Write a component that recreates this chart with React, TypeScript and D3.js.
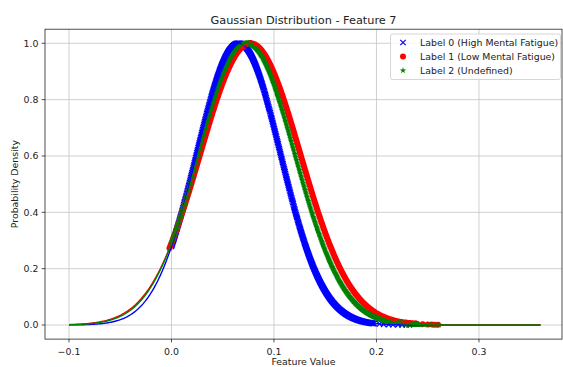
import React from "react";
import * as d3 from "d3";

const labels = ["Label 0 (High Mental Fatigue)", "Label 1 (Low Mental Fatigue)", "Label 2 (Undefined)"];
const means = [0.0655, 0.0769, 0.0736];
const stds = [0.041, 0.0489, 0.0468];
const colors = ["blue", "red", "green"];
const markerTypes = ["x", "o", "*"];
const sampleStart = [0.0, -0.002, 0.0];
const sampleEnd = [0.198, 0.24, 0.242];
const tailSamples = [
  [0.203, 0.207, 0.212, 0.216, 0.221, 0.225, 0.229, 0.232],
  [0.245, 0.25, 0.254, 0.257, 0.26],
  [0.246, 0.25, 0.253, 0.257, 0.261],
];
const lineRange = [-0.1, 0.36];
const xTicks = [-0.1, 0, 0.1, 0.2, 0.3];
const yTicks = [0, 0.2, 0.4, 0.6, 0.8, 1.0];
const title = "Gaussian Distribution - Feature 7";
const xLabel = "Feature Value";
const yLabel = "Probability Density";

const W = 563;
const H = 367;
const FONT = "DejaVu Sans, sans-serif";
const FS = 9.4;
const INK = "#222";

const gauss = (x: number, m: number, s: number) => Math.exp(-((x - m) ** 2) / (2 * s * s));

function markerPath(type: string, cx: number, cy: number): string {
  if (type === "x") {
    const h = 2.7;
    return `M${cx - h},${cy - h}L${cx + h},${cy + h}M${cx - h},${cy + h}L${cx + h},${cy - h}`;
  }
  if (type === "o") {
    const r = 3;
    return `M${cx + r},${cy}A${r},${r} 0 1,1 ${cx - r},${cy}A${r},${r} 0 1,1 ${cx + r},${cy}Z`;
  }
  const ro = 3.4;
  const ri = ro * 0.382;
  let p = "";
  for (let i = 0; i < 10; i++) {
    const r = i % 2 === 0 ? ro : ri;
    const a = -Math.PI / 2 + (i * Math.PI) / 5;
    p += `${i === 0 ? "M" : "L"}${(cx + r * Math.cos(a)).toFixed(2)},${(cy + r * Math.sin(a)).toFixed(2)}`;
  }
  return p + "Z";
}

export default function App() {
  const left = 45, right = 562, top = 29.2, bottom = 339.1;
  const x = d3.scaleLinear().domain([-0.1234, 0.381]).range([left, right]);
  const y = d3.scaleLinear().domain([-0.05, 1.05]).range([bottom, top]);
  const fmt = (v: number) => d3.format(".1f")(v).replace("-", "\u2212");

  const line = d3.line<number[]>().x((d) => x(d[0])).y((d) => y(d[1]));

  const series = means.map((m, i) => {
    const lineX = d3.range(lineRange[0], lineRange[1] + 1e-9, 0.001);
    const lineData = lineX.map((v) => [v, gauss(v, m, stds[i])]);
    const sx = d3.range(sampleStart[i], sampleEnd[i], 0.0004).concat(tailSamples[i]);
    const mp = sx.map((v) => markerPath(markerTypes[i], x(v), y(gauss(v, m, stds[i])))).join("");
    return { lineData, mp };
  });

  return (
    <svg width={W} height={H} style={{ position: "absolute", left: 0, top: 0, background: "white" }}>
      <rect width={W} height={H} fill="white" />
      {/* grid */}
      <g stroke="#c4c4c4" strokeWidth={0.8}>
        {xTicks.map((t) => (
          <line key={"gx" + t} x1={x(t)} x2={x(t)} y1={top} y2={bottom} />
        ))}
        {yTicks.map((t) => (
          <line key={"gy" + t} y1={y(t)} y2={y(t)} x1={left} x2={right} />
        ))}
      </g>
      {/* scatter */}
      {series.map((s, i) =>
        markerTypes[i] === "x" ? (
          <path key={"m" + i} d={s.mp} stroke={colors[i]} strokeWidth={1.2} fill="none" />
        ) : (
          <path key={"m" + i} d={s.mp} fill={colors[i]} stroke="none" />
        )
      )}
      {/* lines */}
      {series.map((s, i) => (
        <path key={"l" + i} d={line(s.lineData) || ""} stroke={colors[i]} strokeWidth={1.4} fill="none" />
      ))}
      {/* spines */}
      <rect x={left} y={top} width={right - left} height={bottom - top} fill="none" stroke={INK} strokeWidth={0.8} />
      {/* ticks */}
      <g fontFamily={FONT} fontSize={FS} fill={INK}>
        {xTicks.map((t) => (
          <g key={"xt" + t}>
            <line x1={x(t)} x2={x(t)} y1={bottom} y2={bottom + 3.3} stroke={INK} strokeWidth={0.8} />
            <text x={x(t)} y={354.5} textAnchor="middle">{fmt(t)}</text>
          </g>
        ))}
        {yTicks.map((t) => (
          <g key={"yt" + t}>
            <line x1={left - 3.3} x2={left} y1={y(t)} y2={y(t)} stroke={INK} strokeWidth={0.8} />
            <text x={38.5} y={y(t) + 3.4} textAnchor="end">{fmt(t)}</text>
          </g>
        ))}
      </g>
      <text x={(left + right) / 2} y={365} textAnchor="middle" fontFamily={FONT} fontSize={FS} fill={INK}>{xLabel}</text>
      <text transform={`translate(17.5,${(top + bottom) / 2}) rotate(-90)`} textAnchor="middle" fontFamily={FONT} fontSize={FS} fill={INK}>{yLabel}</text>
      <text x={(left + right) / 2} y={23.5} textAnchor="middle" fontFamily={FONT} fontSize={11.3} fill={INK}>{title}</text>
      {/* legend */}
      <rect x={390.5} y={34} width={170} height={45.5} rx={2} fill="white" fillOpacity={0.8} stroke="#cccccc" strokeWidth={0.8} />
      {labels.map((lab, i) => {
        const ly = 42.5 + i * 14;
        return (
          <g key={"lg" + i}>
            {markerTypes[i] === "x" ? (
              <path d={markerPath("x", 403, ly)} stroke={colors[i]} strokeWidth={1.2} fill="none" />
            ) : (
              <path d={markerPath(markerTypes[i], 403, ly)} fill={colors[i]} />
            )}
            <text x={420} y={ly + 3.4} fontFamily={FONT} fontSize={FS} fill={INK}>{lab}</text>
          </g>
        );
      })}
    </svg>
  );
}
